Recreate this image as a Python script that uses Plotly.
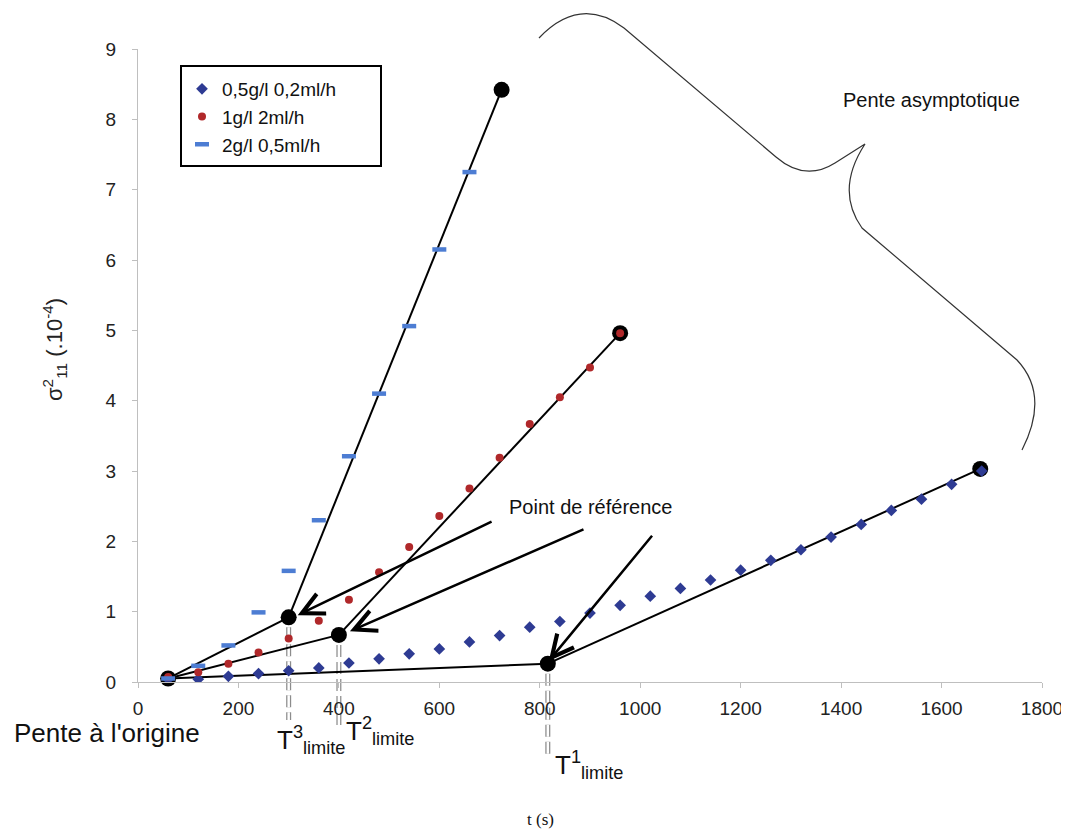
import plotly.graph_objects as go

# ---------------- data ----------------
t_s1 = [60, 120, 180, 240, 300, 360, 420, 480, 540, 600, 660, 720, 780, 840,
        900, 960, 1020, 1080, 1140, 1200, 1260, 1320, 1380, 1440, 1500, 1560, 1620, 1680]
v_s1 = [0.04, 0.04, 0.08, 0.12, 0.16, 0.20, 0.27, 0.33, 0.40, 0.47, 0.57, 0.66, 0.78, 0.86,
        0.98, 1.09, 1.22, 1.33, 1.45, 1.59, 1.73, 1.88, 2.06, 2.24, 2.44, 2.60, 2.81, 3.00]

t_s2 = [60, 120, 180, 240, 300, 360, 420, 480, 540, 600, 660, 720, 780, 840, 900, 960]
v_s2 = [0.07, 0.14, 0.26, 0.42, 0.62, 0.87, 1.17, 1.56, 1.92, 2.36, 2.75, 3.19, 3.67, 4.05, 4.47, 4.96]

t_s3 = [60, 120, 180, 240, 300, 360, 420, 480, 540, 600, 660]
v_s3 = [0.05, 0.23, 0.52, 0.99, 1.58, 2.30, 3.21, 4.10, 5.06, 6.15, 7.25]

names = ["0,5g/l 0,2ml/h", "1g/l 2ml/h", "2g/l 0,5ml/h"]

# reference construction points
origin_t, origin_v = 60, 0.05
limit_t = [816, 400, 300]          # T1, T2, T3 limite
limit_v = [0.26, 0.67, 0.92]
end_t = [1677, 960, 724]
end_v = [3.03, 4.96, 8.42]
limit_labels = ["T<sup>1</sup><sub>limite</sub>", "T<sup>2</sup><sub>limite</sub>",
                "T<sup>3</sup><sub>limite</sub>"]

# arrows "Point de référence"
arrow_tail_t = [1026, 890, 707]
arrow_tail_v = [2.10, 2.18, 2.29]
arrow_tip_t = [818, 422, 318]
arrow_tip_v = [0.30, 0.72, 0.95]

XMAX, YMAX = 1800, 9

# ---------------- layout geometry (page pixels) ----------------
OFF = 8                      # default body margin of the html page
W, H = 1069 - OFF, 838 - 2 * OFF
ML, MT = 138 - OFF, 49 - OFF
MR = (OFF + W) - 1042
MB = (OFF + H) - 682
PW, PH = W - ML - MR, H - MT - MB


def px2paper(px, py):
    """page pixel -> paper coordinates"""
    return (px - OFF - ML) / PW, (OFF + H - MB - py) / PH


FONT = "Liberation Sans, Arial, sans-serif"
C1, C2, C3 = "#2E3B93", "#B0282A", "#4D7DD3"

fig = go.Figure()

# construction lines
for i in range(3):
    fig.add_trace(go.Scatter(x=[origin_t, limit_t[i]], y=[origin_v, limit_v[i]], mode="lines",
                             line=dict(color="black", width=2), showlegend=False, hoverinfo="skip"))
    fig.add_trace(go.Scatter(x=[limit_t[i], end_t[i]], y=[limit_v[i], end_v[i]], mode="lines",
                             line=dict(color="black", width=2), showlegend=False, hoverinfo="skip"))

# black dots
fig.add_trace(go.Scatter(x=[origin_t] + limit_t + end_t, y=[origin_v] + limit_v + end_v,
                         mode="markers", marker=dict(color="black", size=16),
                         showlegend=False, hoverinfo="skip", cliponaxis=False))

# data series
fig.add_trace(go.Scatter(x=t_s1, y=v_s1, mode="markers", name=names[0],
                         marker=dict(symbol="diamond", size=9, color=C1)))
fig.add_trace(go.Scatter(x=t_s2, y=v_s2, mode="markers", name=names[1],
                         marker=dict(symbol="circle", size=8, color=C2)))
fig.add_trace(go.Scatter(x=t_s3, y=v_s3, mode="markers", name=names[2],
                         marker=dict(symbol="line-ew", size=10, color=C3,
                                     line=dict(color=C3, width=4.5))))

shapes = []
# T limite hollow dashed vertical lines
t_line_bottom_px = [755, 728, 720]
for i in range(3):
    xp = limit_t[i] / XMAX
    ytop = limit_v[i] / YMAX - 10 / PH
    ybot = px2paper(0, t_line_bottom_px[i])[1]
    for col, wd in (("#8C8C8C", 5), ("white", 2.5)):
        shapes.append(dict(type="line", xref="paper", yref="paper", x0=xp, x1=xp,
                           y0=ytop, y1=ybot, line=dict(color=col, width=wd, dash="12px,5px"),
                           layer="below"))

# legend frame
lx0, ly0 = px2paper(181, 66)
lx1, ly1 = px2paper(381, 166)
shapes.append(dict(type="rect", xref="paper", yref="paper", x0=lx0, x1=lx1, y0=ly0, y1=ly1,
                   line=dict(color="black", width=2), fillcolor="white", layer="below"))

# curly brace for "Pente asymptotique"
bp = [(539, 38), (580, -5), (624, 28), (776, 157), (805, 182), (835, 163), (865, 144),
      (835, 190), (862, 228), (1017, 360), (1050, 395), (1022, 450)]
P = [px2paper(*p) for p in bp]
path = ("M {0[0]},{0[1]} Q {1[0]},{1[1]} {2[0]},{2[1]} L {3[0]},{3[1]} "
        "Q {4[0]},{4[1]} {5[0]},{5[1]} L {6[0]},{6[1]} Q {7[0]},{7[1]} {8[0]},{8[1]} "
        "L {9[0]},{9[1]} Q {10[0]},{10[1]} {11[0]},{11[1]}").format(*P)
shapes.append(dict(type="path", xref="paper", yref="paper", path=path,
                   line=dict(color="#333333", width=1.2)))

annotations = []
for i in range(3):
    annotations.append(dict(x=arrow_tip_t[i], y=arrow_tip_v[i], ax=arrow_tail_t[i], ay=arrow_tail_v[i],
                            xref="x", yref="y", axref="x", ayref="y", text="", showarrow=True,
                            arrowhead=5, arrowsize=1.7, arrowwidth=2.5, arrowcolor="black",
                            standoff=0, startstandoff=0))

annotations.append(dict(x=735, y=2.49, xref="x", yref="y", text="Point de référence",
                        showarrow=False, xanchor="left", yanchor="middle",
                        font=dict(family=FONT, size=20, color="#111")))
annotations.append(dict(x=1400, y=8.28, xref="x", yref="y", text="Pente asymptotique",
                        showarrow=False, xanchor="left", yanchor="middle",
                        font=dict(family=FONT, size=20, color="#111")))

# T limite labels
t_lab_left_px = [553, 344, 275]
t_lab_mid_px = [765, 731, 740]
for i in range(3):
    xp, yp = px2paper(t_lab_left_px[i], t_lab_mid_px[i])
    annotations.append(dict(x=xp, y=yp, xref="paper", yref="paper", text=limit_labels[i],
                            showarrow=False, xanchor="left", yanchor="middle",
                            font=dict(family=FONT, size=26, color="#111")))

xp, yp = px2paper(12, 733)
annotations.append(dict(x=xp, y=yp, xref="paper", yref="paper", text="Pente à l'origine",
                        showarrow=False, xanchor="left", yanchor="middle",
                        font=dict(family=FONT, size=26, color="#111")))

xp, yp = px2paper(55, 350)
annotations.append(dict(x=xp, y=yp, xref="paper", yref="paper",
                        text="σ<sup>2</sup><sub>11</sub> (.10<sup>-4</sup>)",
                        showarrow=False, textangle=-90, xanchor="center", yanchor="middle",
                        font=dict(family=FONT, size=22, color="#222")))

xp, yp = px2paper(540, 819)
annotations.append(dict(x=xp, y=yp, xref="paper", yref="paper", text="t (s)",
                        showarrow=False, xanchor="center", yanchor="middle",
                        font=dict(family="Liberation Serif, Times New Roman, serif", size=17,
                                  color="#111")))

lgx, lgy = px2paper(182, 70)
fig.update_layout(
    width=W, height=H,
    margin=dict(l=ML, r=MR, t=MT, b=MB, pad=0, autoexpand=False),
    paper_bgcolor="white", plot_bgcolor="rgba(0,0,0,0)",
    font=dict(family=FONT, size=19, color="#222"),
    showlegend=True,
    legend=dict(x=lgx, y=lgy, xanchor="left", yanchor="top", borderwidth=0,
                bgcolor="rgba(0,0,0,0)", font=dict(family=FONT, size=19, color="#111"),
                tracegroupgap=0),
    shapes=shapes, annotations=annotations,
    xaxis=dict(range=[0, XMAX], dtick=200, tick0=0, showgrid=False, zeroline=False,
               showline=True, linecolor="#BFBFBF", linewidth=1, ticks="outside",
               ticklen=5, tickcolor="#BFBFBF", ticklabelstandoff=4,
               ticklabeloverflow="allow", automargin=False,
               tickfont=dict(family=FONT, size=19, color="#222")),
    yaxis=dict(range=[0, YMAX], dtick=1, tick0=0, showgrid=False, zeroline=False,
               showline=True, linecolor="#BFBFBF", linewidth=1, ticks="outside",
               ticklen=5, tickcolor="#BFBFBF", ticklabelstandoff=12, automargin=False,
               tickfont=dict(family=FONT, size=19, color="#222")),
)

fig.write_html("out.html")
